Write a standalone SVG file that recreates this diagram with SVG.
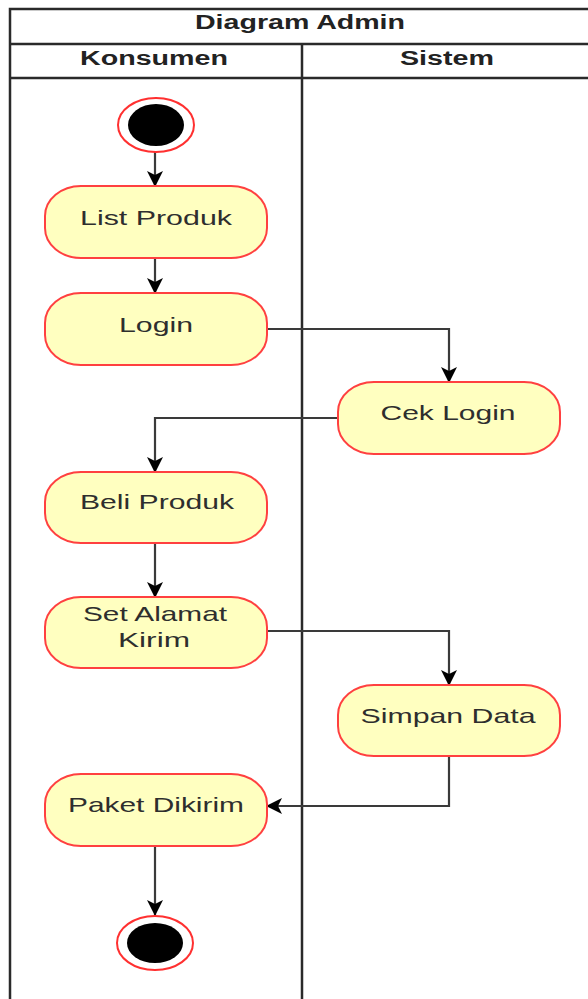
<svg xmlns="http://www.w3.org/2000/svg" width="588" height="999" viewBox="0 0 588 999">
  <style>
    .frame { fill: none; stroke: #2a2a2a; stroke-width: 2.5; }
    .act { fill: #FFFFC0; stroke: #FF4040; stroke-width: 2; }
    .lbl { font-family: "Liberation Sans", Arial, sans-serif; font-size: 21px; fill: #2e2e2e; text-anchor: middle; }
    .hdr { font-family: "Liberation Sans", Arial, sans-serif; font-size: 20px; font-weight: bold; fill: #222; text-anchor: middle; }
    .flow { fill: none; stroke: #3a3a3a; stroke-width: 2.2; }
    .ring { fill: #fff; stroke: #FF3030; stroke-width: 2; }
    .dot { fill: #000; }
  </style>
  <defs>
    <marker id="arrow" viewBox="0 0 16 16" refX="15" refY="8" markerWidth="16" markerHeight="16" markerUnits="userSpaceOnUse" orient="auto">
      <path d="M0,0 L16,8 L0,16 L4,8 Z" fill="#000"/>
    </marker>
  </defs>

  <rect width="588" height="999" fill="#fff"/>

  <!-- swimlane frame -->
  <g id="pool">
    <rect class="frame" x="10" y="9" width="600" height="1000"/>
    <line class="frame" x1="10" y1="44" x2="588" y2="44"/>
    <line class="frame" x1="10" y1="78" x2="588" y2="78"/>
    <line class="frame" x1="302" y1="44" x2="302" y2="999"/>
    <text class="hdr" x="300" y="29" textLength="210" lengthAdjust="spacingAndGlyphs">Diagram Admin</text>
    <text class="hdr" x="154" y="65" textLength="148" lengthAdjust="spacingAndGlyphs">Konsumen</text>
    <text class="hdr" x="447" y="65" textLength="94" lengthAdjust="spacingAndGlyphs">Sistem</text>
  </g>

  <!-- control flows -->
  <g id="connectors">
    <path class="flow" d="M155,152 V186" marker-end="url(#arrow)"/>
    <path class="flow" d="M155,258 V293" marker-end="url(#arrow)"/>
    <path class="flow" d="M267,329 H449 V382" marker-end="url(#arrow)"/>
    <path class="flow" d="M338,418 H155 V472" marker-end="url(#arrow)"/>
    <path class="flow" d="M155,543 V597" marker-end="url(#arrow)"/>
    <path class="flow" d="M267,631 H449 V685" marker-end="url(#arrow)"/>
    <path class="flow" d="M449,756 V806 H267" marker-end="url(#arrow)"/>
    <path class="flow" d="M155,846 V915" marker-end="url(#arrow)"/>
  </g>

  <g id="start">
    <ellipse class="ring" cx="156" cy="125" rx="38" ry="27"/>
    <ellipse class="dot" cx="156" cy="125" rx="28" ry="21"/>
  </g>

  <g id="list-produk">
    <rect class="act" x="45" y="186" width="222" height="72" rx="36" ry="30"/>
    <text class="lbl" x="156" y="225" textLength="152" lengthAdjust="spacingAndGlyphs">List Produk</text>
  </g>

  <g id="login">
    <rect class="act" x="45" y="293" width="222" height="72" rx="36" ry="30"/>
    <text class="lbl" x="156" y="332" textLength="74" lengthAdjust="spacingAndGlyphs">Login</text>
  </g>

  <g id="cek-login">
    <rect class="act" x="338" y="382" width="222" height="72" rx="36" ry="30"/>
    <text class="lbl" x="448" y="420" textLength="135" lengthAdjust="spacingAndGlyphs">Cek Login</text>
  </g>

  <g id="beli-produk">
    <rect class="act" x="45" y="472" width="222" height="71" rx="36" ry="30"/>
    <text class="lbl" x="157" y="509" textLength="154" lengthAdjust="spacingAndGlyphs">Beli Produk</text>
  </g>

  <g id="set-alamat">
    <rect class="act" x="45" y="597" width="222" height="71" rx="36" ry="30"/>
    <text class="lbl" x="155" y="621" textLength="144" lengthAdjust="spacingAndGlyphs">Set Alamat</text>
    <text class="lbl" x="154" y="647" textLength="72" lengthAdjust="spacingAndGlyphs">Kirim</text>
  </g>

  <g id="simpan-data">
    <rect class="act" x="338" y="685" width="222" height="71" rx="36" ry="30"/>
    <text class="lbl" x="448" y="723" textLength="175" lengthAdjust="spacingAndGlyphs">Simpan Data</text>
  </g>

  <g id="paket-dikirim">
    <rect class="act" x="45" y="774" width="222" height="72" rx="36" ry="30"/>
    <text class="lbl" x="156" y="812" textLength="176" lengthAdjust="spacingAndGlyphs">Paket Dikirim</text>
  </g>

  <g id="end">
    <ellipse class="ring" cx="155" cy="943" rx="38" ry="27"/>
    <ellipse class="dot" cx="155" cy="943" rx="28" ry="20"/>
  </g>
</svg>
